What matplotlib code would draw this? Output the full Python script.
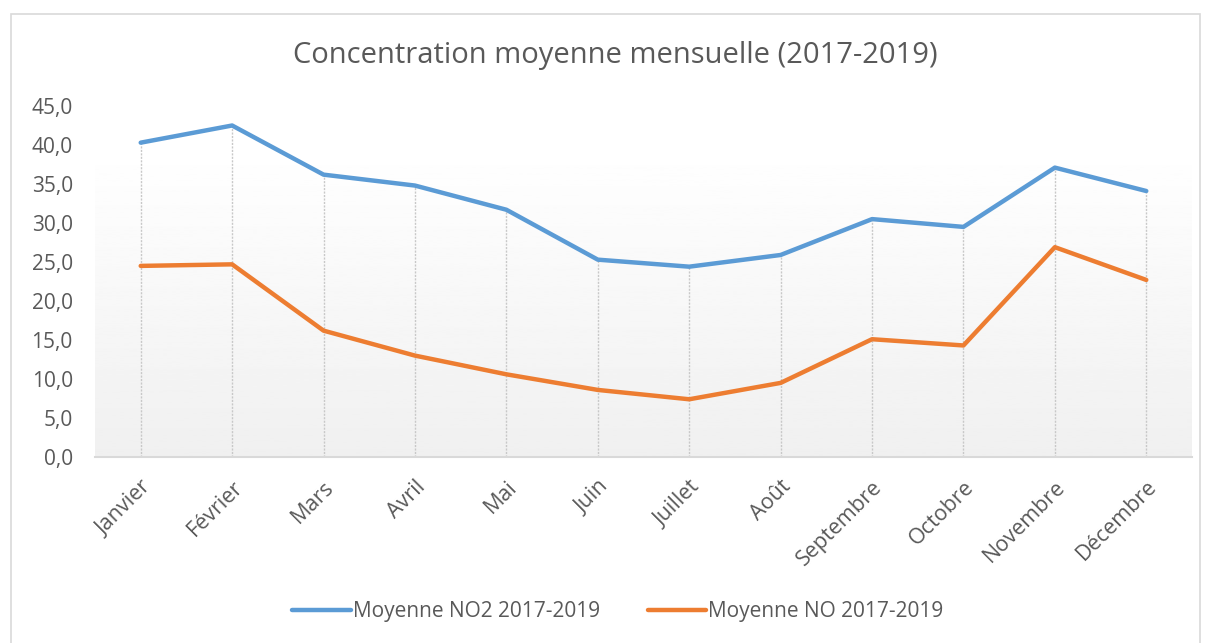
import numpy as np
import matplotlib.pyplot as plt
from matplotlib.patches import Rectangle

plt.rcParams["font.family"] = ["Open Sans", "DejaVu Sans"]

# ── Data ──────────────────────────────────────────────────────────────────────
mois = ["Janvier", "Février", "Mars", "Avril", "Mai", "Juin", "Juillet",
        "Août", "Septembre", "Octobre", "Novembre", "Décembre"]
no2 = [40.3, 42.5, 36.2, 34.8, 31.7, 25.3, 24.4, 25.9, 30.5, 29.5, 37.1, 34.1]
no = [24.5, 24.7, 16.2, 13.0, 10.6, 8.6, 7.4, 9.5, 15.1, 14.3, 26.9, 22.7]

TXT = "#595959"

fig = plt.figure(figsize=(12.09, 6.43), dpi=100)
ax = fig.add_axes([95 / 1209, 1 - 457 / 643, (1192 - 95) / 1209, (457 - 106) / 643])

x = np.arange(len(mois))

# soft vertical gradient in the plot area
grad = np.linspace(0.94, 1.0, 256).reshape(-1, 1)
ax.imshow(grad, cmap="gray", vmin=0, vmax=1, aspect="auto", origin="lower",
          extent=[-0.5, len(mois) - 0.5, 0, 40], zorder=0)

# drop lines
top = np.maximum(no2, no)
ax.vlines(x, 0, top, colors="#c8c8c8", linestyles=(0, (1.5, 1)), linewidth=1.0, zorder=1)

ax.plot(x, no2, color="#5B9BD5", linewidth=3.2, label="Moyenne NO2 2017-2019",
        solid_capstyle="round", zorder=3)
ax.plot(x, no, color="#ED7D31", linewidth=3.2, label="Moyenne NO 2017-2019",
        solid_capstyle="round", zorder=3)

ax.set_xlim(-0.5, len(mois) - 0.5)
ax.set_ylim(0, 45)
ax.set_yticks(np.arange(0, 46, 5))
ax.set_yticklabels([f"{v:.1f}".replace(".", ",") for v in np.arange(0, 46, 5)])
ax.set_xticks(x)
ax.set_xticklabels(mois, rotation=45, ha="right", rotation_mode="anchor")
ax.tick_params(axis="both", length=0, colors=TXT)
ax.tick_params(axis="x", pad=14, labelsize=15.5)
ax.tick_params(axis="y", pad=16, labelsize=15)

for s in ["top", "right", "left"]:
    ax.spines[s].set_visible(False)
ax.spines["bottom"].set_color("#d9d9d9")
ax.spines["bottom"].set_linewidth(1.5)

fig.text(615 / 1209, 1 - 55 / 643, "Concentration moyenne mensuelle (2017-2019)",
         ha="center", va="center", fontsize=21, color=TXT)

leg = fig.legend(loc="center", bbox_to_anchor=(618 / 1209, 1 - 612 / 643), ncol=2,
                 frameon=False, fontsize=15, handlelength=2.8, handletextpad=0.1,
                 columnspacing=2.3)
for t in leg.get_texts():
    t.set_color(TXT)

# outer chart border
fig.patches.append(Rectangle((11 / 1209, -0.01), (1200 - 11) / 1209, 1 - 14 / 643 + 0.01,
                             transform=fig.transFigure, fill=False,
                             edgecolor="#d9d9d9", linewidth=1.2))

fig.savefig("out.png", dpi=100)
